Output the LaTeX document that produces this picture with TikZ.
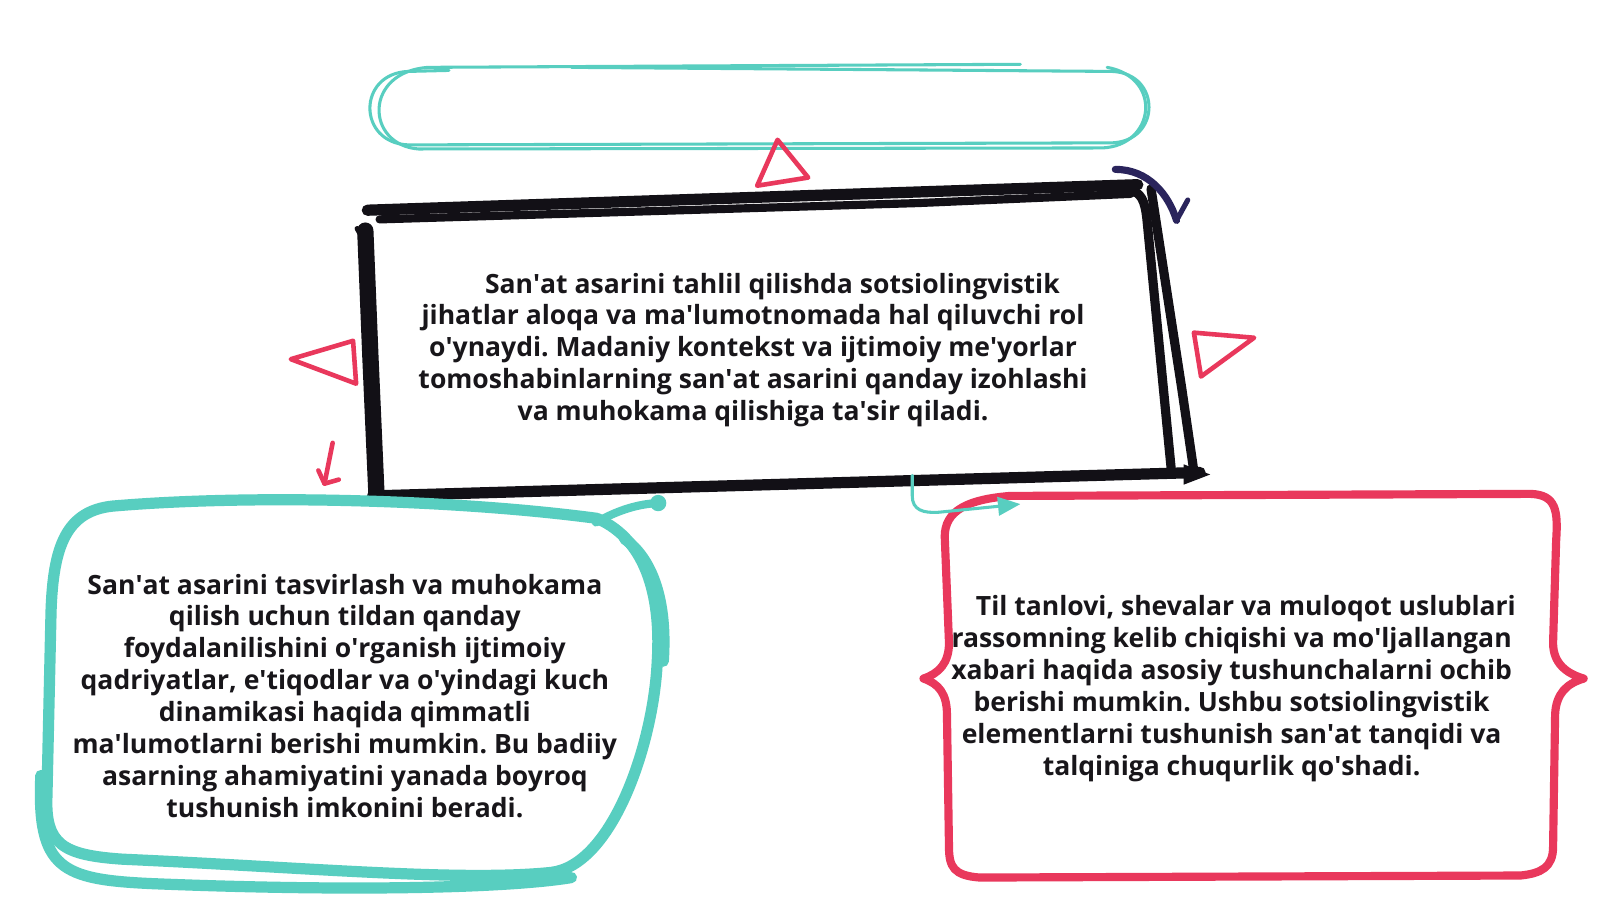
\documentclass[tikz,border=0pt]{standalone}
\usepackage{fontspec}
\setmainfont{Open Sans}
\usetikzlibrary{arrows.meta}
\definecolor{tealc}{RGB}{88,206,192}
\definecolor{redc}{RGB}{233,56,92}
\definecolor{blackc}{RGB}{18,16,22}
\definecolor{navyc}{RGB}{42,36,92}
\definecolor{textc}{RGB}{24,22,26}
\newcommand\ap{\textquotesingle}
\tikzset{
  tealthin/.style={draw=tealc, line width=3, line cap=round, line join=round},
  tealthick/.style={draw=tealc, line width=11, line cap=round, line join=round},
  redline/.style={draw=redc, line width=8, line cap=round, line join=round},
  redtri/.style={draw=redc, line width=4.5, line join=round, line cap=round},
  blk/.style={draw=blackc, line cap=round, line join=round},
  bodytext/.style={text=textc, align=center, font=\fontsize{26}{31.3}\selectfont\bfseries\frenchspacing, inner sep=0pt}
}
\begin{document}
\begin{tikzpicture}[x=1pt,y=-1pt]
\useasboundingbox (0,0) rectangle (1568,882);
\fill[white] (0,0) rectangle (1568,882);

% top teal empty box
\draw[tealthin] (560,66) -- (1090,70) .. controls (1138,72) and (1138,138) .. (1090,140) -- (400,142) .. controls (350,140) and (350,72) .. (400,70) -- (440,69);
\draw[tealthin] (1000,63) -- (420,66) .. controls (356,70) and (358,142) .. (410,146) -- (1080,145) .. controls (1132,143) and (1140,76) .. (1085,66);

% red triangle top
\draw[redtri] (762,137) -- (742,182) -- (792,174) -- cycle;

% black box
\draw[blk, line width=11] (360,206) -- (1115,181);
\draw[blk, line width=8] (372,215) -- (900,199) -- (1108,190);
\draw[blk, line width=16] (358,226) -- (363,350) -- (369,486);
\draw[blk, line width=5] (350,224) -- (358,238);
\draw[blk, line width=9] (1106,186) .. controls (1118,188) and (1122,196) .. (1124,215) -- (1148,462);
\draw[blk, line width=9] (1128,185) -- (1158,380) -- (1170,462);
\draw[blk, line width=11] (365,486) -- (1176,463);
\fill[blackc] (1160,455) -- (1186,465) -- (1160,475) -- cycle;

% navy hook
\draw[draw=navyc, line width=7, line cap=round] (1093,166) .. controls (1125,166) and (1145,190) .. (1153,216);
\draw[draw=navyc, line width=5, line cap=round] (1153,216) -- (1164,196);

% side red triangles
\draw[redtri] (285,352) -- (346,334) -- (349,376) -- cycle;
\draw[redtri] (1170,326) -- (1229,331) -- (1177,369) -- cycle;

% small red arrow
\draw[redtri] (326,434) -- (318,474);
\draw[redtri] (312,461) -- (318,474) -- (332,470);

% teal left box
\draw[tealthick] (585,508) .. controls (450,490) and (250,484) .. (110,496) .. controls (65,501) and (52,535) .. (50,600) -- (46,780) .. controls (44,828) and (62,838) .. (120,842) .. controls (300,850) and (450,864) .. (540,855) .. controls (600,848) and (640,730) .. (644,650) .. controls (648,590) and (636,530) .. (585,508);
\draw[tealthick] (40,760) .. controls (36,852) and (60,862) .. (150,866) .. controls (350,874) and (500,870) .. (560,860);
\draw[tealthick] (612,528) .. controls (640,548) and (654,590) .. (650,648);
\coordinate (tlstart) at (584,512);
\coordinate (tlend) at (645,493);
\draw[tealthick, line width=8] (tlstart) .. controls (602,502) and (622,494) .. (tlend);
\fill[tealc] (tlend) circle (8);

% red right box
\draw[redline] (990,486) -- (1500,484) .. controls (1525,485) and (1527,500) .. (1525,530) -- (1522,630) .. controls (1522,650) and (1535,660) .. (1552,665) .. controls (1535,670) and (1525,680) .. (1524,700) -- (1522,830) .. controls (1522,850) and (1510,856) .. (1490,858) -- (960,860) .. controls (935,858) and (930,850) .. (930,830) -- (928,700) .. controls (928,680) and (920,670) .. (905,665) .. controls (920,660) and (930,650) .. (930,630) -- (926,530) .. controls (924,505) and (940,490) .. (990,486);

% teal connector
\coordinate (cstart) at (894,466);
\coordinate (cend) at (1000,494);
\draw[tealthin, -{Triangle[length=22,width=18]}] (cstart) -- (894,486) .. controls (894,500) and (905,503) .. (920,502) -- (cend);

% texts
\node[bodytext] (ctext) at (738,343) {\hspace*{38pt}San\ap at asarini tahlil qilishda sotsiolingvistik\\ jihatlar aloqa va ma\ap lumotnomada hal qiluvchi rol\\ o\ap ynaydi. Madaniy kontekst va ijtimoiy me\ap yorlar\\ tomoshabinlarning san\ap at asarini qanday izohlashi\\ va muhokama qilishiga ta\ap sir qiladi.};
\node[bodytext] (ltext) at (338,682) {San\ap at asarini tasvirlash va muhokama\\ qilish uchun tildan qanday\\ foydalanilishini o\ap rganish ijtimoiy\\ qadriyatlar, e\ap tiqodlar va o\ap yindagi kuch\\ dinamikasi haqida qimmatli\\ ma\ap lumotlarni berishi mumkin. Bu badiiy\\ asarning ahamiyatini yanada boyroq\\ tushunish imkonini beradi.};
\node[bodytext] (rtext) at (1207,675) {\hspace*{28pt}Til tanlovi, shevalar va muloqot uslublari\\ rassomning kelib chiqishi va mo\ap ljallangan\\ xabari haqida asosiy tushunchalarni ochib\\ berishi mumkin. Ushbu sotsiolingvistik\\ elementlarni tushunish san\ap at tanqidi va\\ talqiniga chuqurlik qo\ap shadi.};
\end{tikzpicture}
\end{document}
